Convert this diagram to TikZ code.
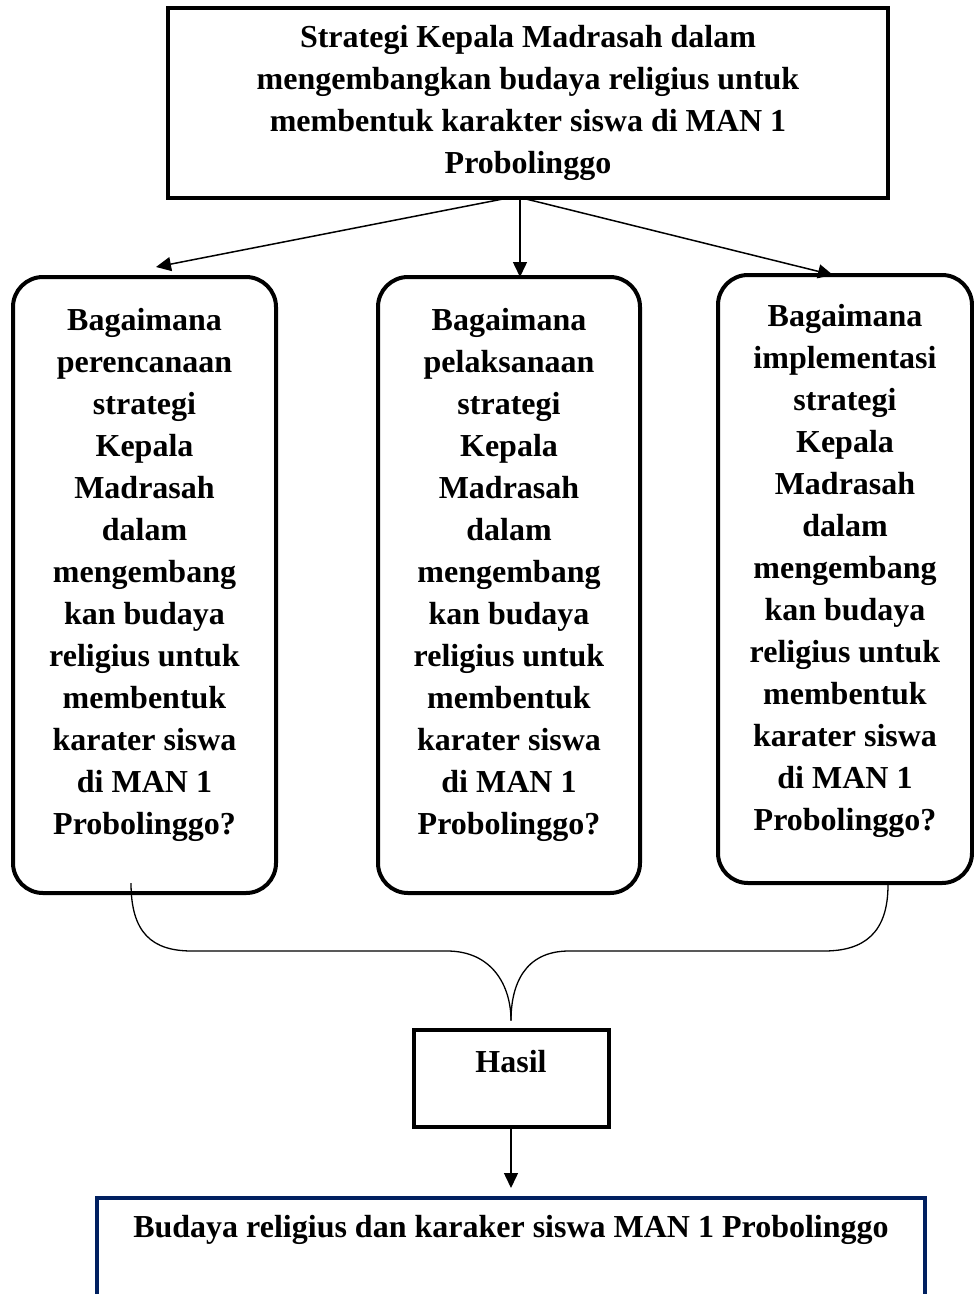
\documentclass[tikz,border=0pt]{standalone}
\usepackage{fontspec}
\setmainfont{Liberation Serif}
\usetikzlibrary{arrows.meta}
\definecolor{navyblue}{HTML}{002060}

\begin{document}
\begin{tikzpicture}[x=1pt,y=-1pt,
    font=\fontsize{32}{42}\selectfont\bfseries,
    sqbox/.style={draw,line width=4pt,inner sep=0pt,outer sep=0pt,align=center},
    qbox/.style={draw,line width=4pt,rounded corners=30pt,inner sep=0pt,outer sep=0pt},
    qtext/.style={align=center,inner sep=0pt},
    arr/.style={line width=1.5pt,-{Triangle[length=15pt,width=14pt]}},
    brace/.style={line width=1.3pt}]
    \useasboundingbox (0,0) rectangle (974,1294);
    \clip (0,0) rectangle (974,1294);

    % Top: strategy box
    \node[sqbox,minimum width=720pt,minimum height=190pt] (top) at (528,103)
      {Strategi Kepala Madrasah dalam\\ mengembangkan budaya religius untuk\\ membentuk karakter siswa di MAN 1\\ Probolinggo};

    % Middle row: three questions
    \node[qbox,minimum width=263pt,minimum height=616pt] (q1) at (144.5,585) {};
    \node[qtext] (q1t) at ([yshift=10pt]q1.center)
      {Bagaimana\\ perencanaan\\ strategi\\ Kepala\\ Madrasah\\ dalam\\ mengembang\\ kan budaya\\ religius untuk\\ membentuk\\ karater siswa\\ di MAN 1\\ Probolinggo?};

    \node[qbox,minimum width=262pt,minimum height=616pt] (q2) at (509,585) {};
    \node[qtext] (q2t) at ([yshift=10pt]q2.center)
      {Bagaimana\\ pelaksanaan\\ strategi\\ Kepala\\ Madrasah\\ dalam\\ mengembang\\ kan budaya\\ religius untuk\\ membentuk\\ karater siswa\\ di MAN 1\\ Probolinggo?};

    \node[qbox,minimum width=254pt,minimum height=608pt] (q3) at (845,579) {};
    \node[qtext] (q3t) at ([yshift=8pt]q3.center)
      {Bagaimana\\ implementasi\\ strategi\\ Kepala\\ Madrasah\\ dalam\\ mengembang\\ kan budaya\\ religius untuk\\ membentuk\\ karater siswa\\ di MAN 1\\ Probolinggo?};

    % Arrows from the top box
    \coordinate (q1in) at (156,267);
    \draw[arr] ([xshift=-20pt]top.south) -- (q1in);
    \draw[arr] ([xshift=-8pt]top.south) -- ([xshift=11pt]q2.north);
    \draw[arr] ([xshift=-6pt]top.south) -- ([xshift=-12pt]q3.north);

    % Result box
    \node[sqbox,minimum width=195pt,minimum height=97pt] (hasil) at (511,1078) {};
    \node (hasilt) at ([yshift=16pt]hasil.center) {Hasil};
    \coordinate (tip) at ([yshift=9pt]hasil.north);

    % Brace joining the questions
    \draw[brace] ([xshift=-13.5pt,yshift=10pt]q1.south) .. controls +(0,50) and +(-40,0) .. (192,951)
      -- (447,951) .. controls +(45,0) and +(0,-35) .. (tip);
    \draw[brace] ([xshift=43pt,yshift=-2pt]q3.south) .. controls +(0,48) and +(40,0) .. (824,951)
      -- (569,951) .. controls +(-45,0) and +(0,-35) .. (tip);

    % Bottom box
    \node[sqbox,draw=navyblue,minimum width=828pt,minimum height=200pt,anchor=north] (res) at (511,1198) {};
    \node (rest) at ([yshift=-32pt]res.north) {Budaya religius dan karaker siswa MAN 1 Probolinggo};
    \draw[arr] (hasil.south) -- ([yshift=10pt]res.north);
\end{tikzpicture}
\end{document}
